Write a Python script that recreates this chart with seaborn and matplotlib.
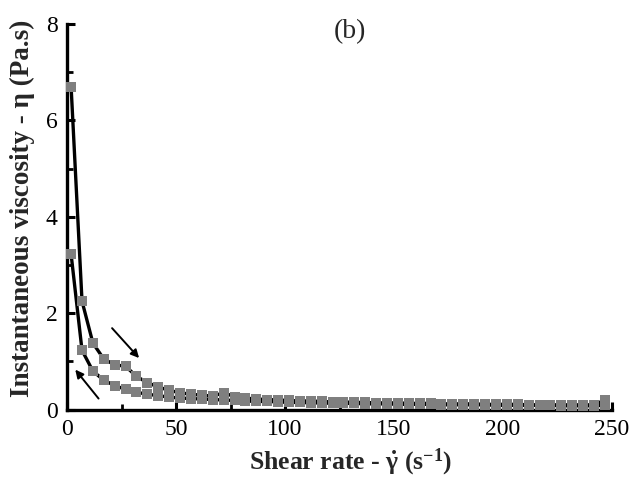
import matplotlib
matplotlib.use("Agg")
import matplotlib.pyplot as plt
import seaborn as sns
import pandas as pd
from matplotlib.ticker import MultipleLocator

shear_rate = [1.8, 6.8, 11.8, 16.8, 21.8, 26.8, 31.8, 36.8, 41.8, 46.8,
              51.8, 56.8, 61.8, 66.8, 71.8, 76.8, 81.8, 86.8, 91.8, 96.8,
              101.8, 106.8, 111.8, 116.8, 121.8, 126.8, 131.8, 136.8, 141.8, 146.8,
              151.8, 156.8, 161.8, 166.8, 171.8, 176.8, 181.8, 186.8, 191.8, 196.8,
              201.8, 206.8, 211.8, 216.8, 221.8, 226.8, 231.8, 236.8, 241.8, 246.8]

visc_up = [6.69, 2.25, 1.38, 1.05, 0.93, 0.90, 0.69, 0.56, 0.47, 0.40,
           0.35, 0.32, 0.30, 0.28, 0.35, 0.27, 0.24, 0.22, 0.21, 0.20,
           0.19, 0.18, 0.18, 0.17, 0.16, 0.16, 0.15, 0.15, 0.14, 0.14,
           0.14, 0.13, 0.13, 0.13, 0.12, 0.12, 0.12, 0.12, 0.11, 0.11,
           0.11, 0.11, 0.10, 0.10, 0.10, 0.10, 0.10, 0.10, 0.10, 0.20]

visc_down = [3.22, 1.23, 0.80, 0.61, 0.50, 0.42, 0.36, 0.32, 0.29, 0.26,
             0.24, 0.23, 0.22, 0.21, 0.20, 0.19, 0.18, 0.17, 0.17, 0.16,
             0.15, 0.15, 0.14, 0.14, 0.13, 0.13, 0.13, 0.12, 0.12, 0.12,
             0.11, 0.11, 0.11, 0.11, 0.10, 0.10, 0.10, 0.10, 0.10, 0.09,
             0.09, 0.09, 0.09, 0.09, 0.09, 0.08, 0.08, 0.08, 0.08, 0.09]

x_ticks = [0, 50, 100, 150, 200, 250]
y_ticks = [0, 2, 4, 6, 8]

sns.set_theme(style="ticks")
plt.rcParams['font.family'] = ['Liberation Serif', 'DejaVu Serif']
plt.rcParams['mathtext.fontset'] = 'custom'
plt.rcParams['mathtext.rm'] = 'Liberation Serif:bold'
plt.rcParams['mathtext.it'] = 'Liberation Serif:bold'
plt.rcParams['mathtext.bf'] = 'Liberation Serif:bold'
plt.rcParams['mathtext.default'] = 'rm'

df = pd.concat([
    pd.DataFrame({"x": shear_rate, "y": visc_up, "curve": "up"}),
    pd.DataFrame({"x": shear_rate, "y": visc_down, "curve": "down"}),
])

fig = plt.figure(figsize=(6.4, 4.78), dpi=100)
ax = fig.add_axes([0.105, 0.143, 0.851, 0.807])

sns.lineplot(data=df, x="x", y="y", units="curve", estimator=None,
             color="black", lw=2.4, ax=ax, sort=False, legend=False)
sns.scatterplot(data=df, x="x", y="y", marker="s", color="#7f7f7f",
                s=42, linewidth=0, ax=ax, legend=False, zorder=3, clip_on=False)

ax.set_xlim(0, 250)
ax.set_ylim(0, 8)
ax.set_xticks(x_ticks)
ax.set_yticks(y_ticks)
ax.xaxis.set_minor_locator(MultipleLocator(25))
ax.yaxis.set_minor_locator(MultipleLocator(1))
ax.tick_params(which='major', direction='in', length=6, width=2.2,
               labelsize=17, pad=7, color='black', labelcolor='black')
ax.tick_params(which='minor', direction='in', length=4, width=2.0, color='black')
ax.tick_params(axis='x', which='both', top=False)
ax.tick_params(axis='y', which='both', right=False)

for s in ['top', 'right']:
    ax.spines[s].set_visible(False)
for s in ['left', 'bottom']:
    ax.spines[s].set_linewidth(2.4)
    ax.spines[s].set_color('black')

ax.set_xlabel(r'Shear rate - $\dot{\gamma}$ (s$^{-1}$)', fontsize=18.5,
              fontweight='bold')
ax.set_ylabel('Instantaneous viscosity - η (Pa.s)', fontsize=19.5,
              fontweight='bold')
ax.xaxis.set_label_coords(0.52, -0.097)
ax.yaxis.set_label_coords(-0.06, 0.522)

ax.text(130, 7.85, '(b)', fontsize=20, ha='center', va='center')

ax.annotate('', xy=(33, 1.07), xytext=(20.6, 1.69),
            arrowprops=dict(arrowstyle='-|>', color='black', lw=1.4,
                            mutation_scale=12, shrinkA=0, shrinkB=0))
ax.annotate('', xy=(3.7, 0.83), xytext=(14.4, 0.23),
            arrowprops=dict(arrowstyle='-|>', color='black', lw=1.4,
                            mutation_scale=12, shrinkA=0, shrinkB=0))

fig.savefig('out.png', dpi=100, facecolor='white')
